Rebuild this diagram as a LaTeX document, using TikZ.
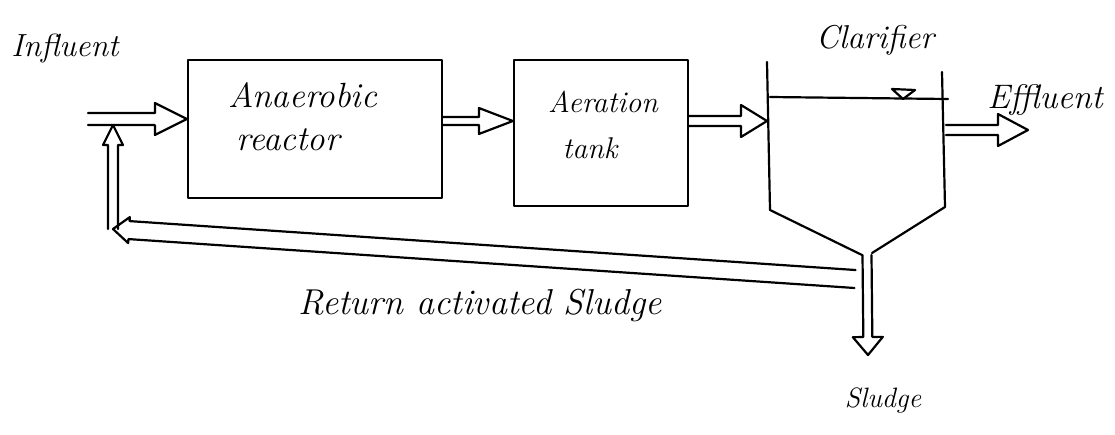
\documentclass[tikz,border=0pt]{standalone}
\usetikzlibrary{calc}
\begin{document}
\begin{tikzpicture}[x=1pt,y=-1pt,line width=2.2pt,line join=round,line cap=round]
\tikzset{
  unit/.style={draw,rectangle,inner sep=0pt,minimum width=#1},
  hand/.style={font=\fontsize{#1}{#1}\selectfont\itshape,inner sep=0pt},
  % open double-line arrow: #1 half gap, #2 head length, #3 head half width
  flow/.style n args={3}{to path={
    let \p1=($(\tikztotarget)-(\tikztostart)$),
        \n1={atan2(\y1,\x1)}, \n2={veclen(\x1,\y1)-#2},
        \n3={#3-#1}, \n4={\n1+90}, \n5={\n1-90}, \n6={\n1+180} in
    ($(\tikztostart)+(\n4:#1)$) -- ++(\n1:\n2) -- ++(\n4:\n3) -- (\tikztotarget)
    -- ($(\tikztotarget)+(\n6:#2)+(\n5:#3)$) -- ++(\n4:\n3)
    -- ($(\tikztostart)+(\n5:#1)$)}}
}
\useasboundingbox (0,0) rectangle (1115,434);

% process units
\node[unit=254pt,minimum height=138pt] (anr) at (315,129) {};
\node[unit=174pt,minimum height=146pt] (aer) at (601,133) {};

% clarifier outline
\coordinate (cTL) at (767,62);
\coordinate (cBL) at (770,210);
\coordinate (cOL) at (862,255);
\coordinate (cOR) at (872,253);
\coordinate (cBR) at (945,207);
\coordinate (cTR) at (942,72);
\draw (cTL) -- (cBL) -- (cOL);
\draw (cOR) -- (cBR) -- (cTR);
\coordinate (wL) at (770,97);
\coordinate (wR) at (948,99);
\draw (wL) -- (wR);
\draw (892,89) -- (915,90) -- (903,99) -- cycle;

% flow connectors
\coordinate (inS) at (88,119);
\coordinate (mix) at (113,125);
\coordinate (retL) at (113,229);
\coordinate (retR) at (855,279);
\coordinate (effS) at (946,130);
\coordinate (effT) at (1028,130);
\coordinate (sluS) at (867,255);
\coordinate (sluT) at (868,355);
\draw[flow={6pt}{32pt}{16pt}] (inS) to (anr.west |- inS);
\draw[flow={4pt}{34pt}{13pt}] (anr.east |- 0,121) to (aer.west |- 0,121);
\draw[flow={5pt}{26pt}{16pt}] (aer.east |- 0,121) to (cTL |- 0,121);
\draw[flow={5pt}{30pt}{16pt}] (effS) to (effT);
\draw[flow={9pt}{16pt}{13pt}] (retR) to (retL);
\draw[flow={5pt}{20pt}{10pt}] (retL) to (mix);
\draw[flow={4.5pt}{18pt}{15pt}] (sluS) to (sluT);

% labels
\node[hand=32] (tin) at (65,48) {Influent};
\node[hand=35] (tanr1) at (303,95) {Anaerobic};
\node[hand=35] (tanr2) at (288,140) {reactor};
\node[hand=30] (taer1) at (603,102) {Aeration};
\node[hand=30] (taer2) at (590,148) {tank};
\node[hand=33] (tcla) at (875,40) {Clarifier};
\node[hand=34] (teff) at (1045,100) {Effluent};
\node[hand=36] (tras) at (480,305) {Return activated Sludge};
\node[hand=28] (tslu) at (883,400) {Sludge};
\end{tikzpicture}
\end{document}
